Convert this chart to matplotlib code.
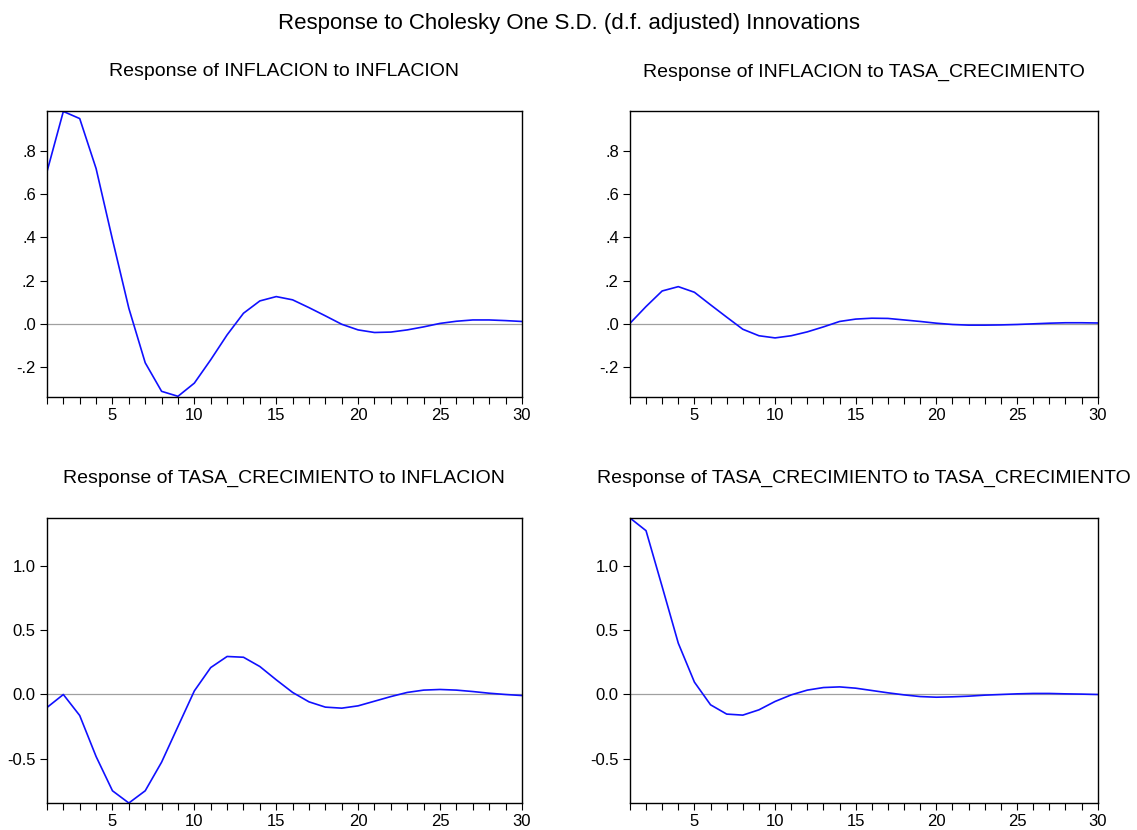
import matplotlib.pyplot as plt
from matplotlib.ticker import FixedLocator, FuncFormatter

plt.rcParams['font.family'] = ['Liberation Sans', 'DejaVu Sans']

periods = list(range(1, 31))

inf_to_inf = [0.703, 0.982, 0.949, 0.718, 0.390, 0.072, -0.180, -0.312, -0.335, -0.274,
              -0.166, -0.051, 0.049, 0.106, 0.126, 0.111, 0.075, 0.037, -0.002, -0.028,
              -0.040, -0.038, -0.028, -0.014, 0.002, 0.012, 0.018, 0.018, 0.015, 0.011]
inf_to_tasa = [0.002, 0.080, 0.152, 0.172, 0.146, 0.088, 0.031, -0.025, -0.055, -0.065,
               -0.055, -0.037, -0.014, 0.011, 0.022, 0.026, 0.025, 0.018, 0.011, 0.003,
               -0.003, -0.006, -0.006, -0.005, -0.003, 0.000, 0.003, 0.005, 0.005, 0.004]
tasa_to_inf = [-0.101, 0.000, -0.163, -0.481, -0.747, -0.842, -0.747, -0.525, -0.248, 0.028,
               0.209, 0.295, 0.289, 0.217, 0.114, 0.016, -0.057, -0.098, -0.106, -0.088,
               -0.052, -0.016, 0.016, 0.034, 0.039, 0.034, 0.023, 0.010, 0.000, -0.008]
tasa_to_tasa = [1.370, 1.271, 0.837, 0.398, 0.096, -0.080, -0.152, -0.160, -0.119, -0.054,
                -0.003, 0.034, 0.054, 0.059, 0.049, 0.031, 0.013, -0.003, -0.016, -0.021,
                -0.018, -0.013, -0.005, 0.000, 0.005, 0.008, 0.008, 0.005, 0.003, 0.000]

titles = ["Response of INFLACION to INFLACION",
          "Response of INFLACION to TASA_CRECIMIENTO",
          "Response of TASA_CRECIMIENTO to INFLACION",
          "Response of TASA_CRECIMIENTO to TASA_CRECIMIENTO"]

top_ticks = [-0.2, 0.0, 0.2, 0.4, 0.6, 0.8]
bottom_ticks = [-0.5, 0.0, 0.5, 1.0]


def short_fmt(v, pos):
    # eviews style: drop the leading zero (.8, -.2)
    s = "%.1f" % v
    if s.startswith("0."):
        s = s[1:]
    elif s.startswith("-0."):
        s = "-" + s[2:]
    if s == "-.0":
        s = ".0"
    return s


fig = plt.figure(figsize=(11.37, 8.3), dpi=100)
fig.text(0.5, 0.972, "Response to Cholesky One S.D. (d.f. adjusted) Innovations",
         ha="center", va="center", fontsize=16)

boxes = [[0.0413, 0.522, 0.4177, 0.344],
         [0.554, 0.522, 0.4114, 0.344],
         [0.0413, 0.0325, 0.4177, 0.3435],
         [0.554, 0.0325, 0.4114, 0.3435]]
series = [inf_to_inf, inf_to_tasa, tasa_to_inf, tasa_to_tasa]

for i in range(4):
    ax = fig.add_axes(boxes[i])
    ax.axhline(0, color="#a0a0a0", lw=0.9, zorder=1)
    ax.plot(periods, series[i], color="#1010ff", lw=1.2, zorder=2)
    ax.set_xlim(1, 30)
    if i < 2:
        ax.set_ylim(-0.337, 0.983)
        ax.yaxis.set_major_locator(FixedLocator(top_ticks))
        ax.yaxis.set_major_formatter(FuncFormatter(short_fmt))
    else:
        ax.set_ylim(-0.842, 1.370)
        ax.yaxis.set_major_locator(FixedLocator(bottom_ticks))
        ax.yaxis.set_major_formatter(FuncFormatter(lambda v, p: "%.1f" % v))
    ax.xaxis.set_major_locator(FixedLocator([5, 10, 15, 20, 25, 30]))
    ax.xaxis.set_minor_locator(FixedLocator(periods))
    ax.tick_params(axis="both", which="both", direction="out", length=5, width=0.8,
                   labelsize=12, pad=3)
    ax.tick_params(axis="x", which="minor", length=5)
    for sp in ax.spines.values():
        sp.set_linewidth(1.0)
    ax.set_title(titles[i], fontsize=14, pad=25)

fig.savefig("out.png", dpi=100)
